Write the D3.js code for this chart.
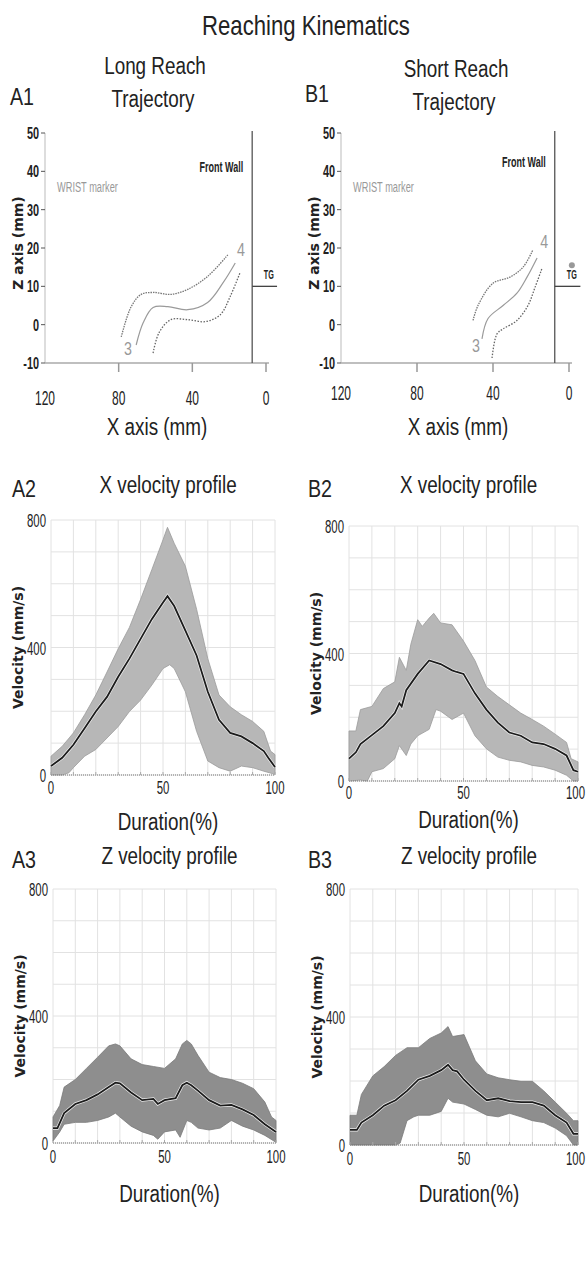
<!DOCTYPE html>
<html>
<head>
<meta charset="utf-8">
<script src="https://cdn.jsdelivr.net/npm/d3@7"></script>
<style>
  body { margin: 0; background: #fff; }
</style>
</head>
<body>
<div id="chart"></div>
<script>
// trajectory data: [x mm, z mm]
const a1Top = [[78.6, -3.2], [73.2, 4.7], [67.8, 7.9], [61, 8.4], [51.7, 7.9], [42.5, 9.2], [31.7, 12.6], [20.4, 18.4]]
const a1Mid = [[70.5, -5.3], [66.7, 0.5], [61.3, 4.5], [53.3, 4.7], [42.5, 3.9], [31.7, 5.8], [23.1, 11.1], [16.7, 16.1]]
const a1Low = [[61.3, -7.4], [58.1, -2.1], [51.7, 1.3], [42.5, 1.3], [32.8, 0.8], [24.8, 2.6], [19.4, 7.4], [14, 13.7]]

const b1Top = [[50.5, 1.1], [47.9, 5], [40, 10.8], [31.1, 12.4], [24.2, 15], [19, 19.5]]
const b1Mid = [[45.8, -3.7], [42.6, 1.6], [34.7, 5], [27.4, 8.2], [22.1, 12.4], [16.8, 17.4]]
const b1Low = [[40.5, -8.7], [37.9, -2.4], [34.7, -1.1], [27.4, 1.1], [21.6, 5], [17.9, 9.7], [14.2, 14.7]]

const trajXTicks = [120, 80, 40, 0]
const trajYTicks = [-10, 0, 10, 20, 30, 40, 50]
const frontWallX = 7.5
const targetZ = 10

// velocity data: [duration %, mm/s]
const a2Mean = [[0, 28], [5, 54], [10, 95], [15, 147], [20, 199], [25, 245], [30, 308], [35, 365], [40, 427], [45, 489], [50, 541], [52, 561], [55, 530], [60, 453], [65, 375], [70, 261], [75, 173], [80, 132], [85, 121], [90, 100], [95, 75], [97, 54], [100, 25]]
const a2Upper = [[0, 59], [5, 90], [10, 132], [15, 189], [20, 251], [25, 323], [30, 396], [35, 463], [40, 551], [45, 644], [50, 738], [52, 777], [55, 727], [60, 655], [65, 520], [70, 365], [75, 251], [80, 214], [85, 189], [90, 168], [95, 137], [98, 75], [100, 64]]
const a2Lower = [[0, 0], [5, 0], [8, 7], [10, 23], [15, 59], [20, 80], [25, 116], [30, 152], [35, 199], [40, 235], [45, 282], [50, 334], [53, 346], [55, 334], [60, 261], [65, 137], [70, 44], [75, 23], [80, 12], [85, 28], [90, 23], [95, 12], [100, 2]]

const b2Mean = [[0, 70], [3, 90], [5, 116], [10, 144], [15, 172], [20, 213], [22, 244], [23, 234], [25, 285], [30, 336], [35, 378], [40, 367], [45, 347], [47, 342], [50, 336], [55, 275], [60, 224], [65, 183], [70, 152], [75, 142], [80, 121], [85, 116], [90, 101], [95, 80], [98, 34], [100, 29]]
const b2Upper = [[0, 157], [3, 157], [5, 224], [10, 234], [15, 290], [20, 311], [22, 388], [25, 347], [27, 429], [30, 506], [32, 485], [35, 511], [37, 526], [40, 496], [45, 490], [50, 439], [55, 378], [60, 295], [65, 265], [70, 239], [75, 213], [80, 193], [85, 172], [90, 147], [95, 121], [97, 70], [100, 60]]
const b2Lower = [[0, 0], [5, 3], [8, 0], [10, 29], [15, 39], [20, 70], [22, 111], [25, 80], [27, 116], [30, 142], [35, 162], [38, 224], [40, 219], [45, 193], [50, 213], [55, 142], [60, 101], [65, 75], [70, 65], [75, 60], [80, 49], [85, 44], [90, 34], [95, 18], [98, 0], [100, 0]]

const a3Mean = [[0, 47], [2, 47], [5, 94], [10, 123], [15, 135], [20, 153], [25, 176], [28, 190], [30, 188], [35, 159], [40, 135], [45, 139], [47, 123], [50, 135], [55, 141], [58, 182], [60, 190], [62, 182], [65, 165], [70, 135], [75, 118], [80, 120], [85, 106], [90, 88], [95, 59], [100, 35]]
const a3Upper = [[0, 82], [3, 118], [5, 176], [10, 200], [15, 235], [20, 270], [25, 306], [28, 312], [30, 306], [35, 265], [40, 247], [45, 241], [50, 235], [55, 265], [58, 312], [60, 323], [62, 312], [65, 276], [70, 223], [75, 206], [80, 200], [85, 188], [90, 171], [95, 129], [98, 82], [100, 71]]
const a3Lower = [[0, 6], [3, 35], [5, 59], [10, 65], [15, 65], [20, 71], [25, 82], [28, 94], [30, 82], [35, 53], [40, 35], [45, 24], [47, 12], [50, 35], [55, 41], [57, 18], [60, 71], [62, 65], [65, 47], [70, 41], [75, 47], [80, 71], [85, 53], [90, 41], [95, 24], [100, 2]]

const b3Mean = [[0, 47], [3, 47], [5, 70], [10, 93], [15, 123], [20, 140], [25, 169], [30, 204], [35, 216], [40, 234], [43, 251], [45, 234], [47, 230], [50, 204], [55, 169], [60, 140], [65, 146], [70, 137], [75, 134], [80, 134], [85, 123], [90, 93], [95, 70], [98, 35], [100, 35]]
const b3Upper = [[0, 93], [3, 93], [5, 158], [10, 216], [15, 245], [20, 280], [25, 304], [30, 304], [35, 333], [40, 350], [43, 370], [45, 339], [50, 345], [55, 263], [60, 222], [65, 210], [70, 204], [75, 199], [80, 199], [85, 169], [90, 134], [95, 99], [98, 76], [100, 76]]
const b3Lower = [[0, 0], [20, 0], [22, 6], [25, 76], [28, 88], [30, 93], [35, 93], [40, 105], [43, 146], [45, 134], [50, 128], [55, 111], [60, 93], [65, 88], [70, 99], [75, 88], [80, 76], [85, 70], [90, 53], [95, 29], [98, 0], [100, 0]]

const velXTicks = [0, 50, 100]
const velYTicks = [0, 400, 800]

const width = 586
const height = 1261
const sansFont = "'Liberation Sans', Arial, sans-serif"
const boldFont = "'DejaVu Sans', Verdana, sans-serif"

const svg = d3
  .select('#chart')
  .append('svg')
  .attr('width', width)
  .attr('height', height)

svg.append('rect').attr('width', width).attr('height', height).attr('fill', '#fff')

// condensed text: Liberation Sans squeezed horizontally
function ntext(g, x, y, str, size, opts) {
  opts = opts || {}
  const sx = opts.sx || 0.82
  return g
    .append('text')
    .attr('transform', 'translate(' + x + ',' + y + ') scale(' + sx + ',1)')
    .attr('font-family', sansFont)
    .attr('font-size', size)
    .attr('font-weight', opts.weight || 'normal')
    .attr('text-anchor', opts.anchor || 'start')
    .attr('fill', opts.fill || '#222')
    .text(str)
}

ntext(svg, 306, 35, 'Reaching Kinematics', 27, { anchor: 'middle' })

function drawTrajectory(p) {
  const g = svg.append('g')
  const x = d3.scaleLinear().domain([120, 0]).range([p.left, p.right])
  const y = d3.scaleLinear().domain([-10, 50]).range([363, 133])

  // panel letter and titles
  ntext(g, p.letterX, p.letterY, p.letter, 24)
  ntext(g, p.titleX, p.titleY, p.title[0], 23, { anchor: 'middle' })
  ntext(g, p.titleX - 2, p.titleY + 33, p.title[1], 23, { anchor: 'middle' })

  // left axis
  g.append('line').attr('x1', x(120)).attr('x2', x(120)).attr('y1', y(50)).attr('y2', y(-10))
    .attr('stroke', '#bbb')
  g.selectAll('.ytick').data(trajYTicks).enter().append('line')
    .attr('x1', x(120) - 4).attr('x2', x(120)).attr('y1', d => y(d)).attr('y2', d => y(d))
    .attr('stroke', '#555')
  trajYTicks.forEach(d => {
    ntext(g, x(120) - 6, y(d) + 6, d, 17, { anchor: 'end', weight: 'bold', sx: 0.64 })
  })

  // bottom axis
  g.append('line').attr('x1', x(120)).attr('x2', x(0) + 3).attr('y1', y(-10)).attr('y2', y(-10))
    .attr('stroke', '#aaa').attr('stroke-width', 1.5)
  g.selectAll('.xtick').data(trajXTicks.slice(1)).enter().append('line')
    .attr('x1', d => x(d)).attr('x2', d => x(d)).attr('y1', y(-10)).attr('y2', y(-10) + 9)
    .attr('stroke', '#999').attr('stroke-width', 1.5)
  trajXTicks.forEach(d => {
    ntext(g, x(d), p.xLabY, d, 20, { anchor: 'middle', sx: 0.6 })
  })
  ntext(g, p.xTitleX, 435, 'X axis (mm)', 23, { anchor: 'middle' })

  g.append('text')
    .attr('transform', 'translate(' + (p.left - 22) + ',243) rotate(-90)')
    .attr('font-family', boldFont).attr('font-weight', 'bold')
    .attr('text-anchor', 'middle').attr('font-size', 14).attr('fill', '#222').text('Z axis (mm)')

  // front wall and target
  g.append('line').attr('x1', x(frontWallX)).attr('x2', x(frontWallX))
    .attr('y1', y(50.5)).attr('y2', y(-10)).attr('stroke', '#555').attr('stroke-width', 1.3)
  g.append('line').attr('x1', x(frontWallX)).attr('x2', x(-6))
    .attr('y1', y(targetZ)).attr('y2', y(targetZ)).attr('stroke', '#444').attr('stroke-width', 1.3)
  ntext(g, x(frontWallX) - 9, p.wallLabY, 'Front Wall', 15, { anchor: 'end', weight: 'bold', sx: 0.6 })
  if (p.dot) {
    g.append('circle').attr('cx', x(-1.5)).attr('cy', y(targetZ) - 21).attr('r', 3).attr('fill', '#999')
  }
  ntext(g, x(-1.5), y(targetZ) - 7, 'TG', 12, { anchor: 'middle', weight: 'bold', sx: 0.6 })
  ntext(g, p.left + 12, 192, 'WRIST marker', 14, { fill: '#999', sx: 0.66 })

  // trajectories
  const line = d3.line()
    .x(d => x(d[0]))
    .y(d => y(d[1]))
    .curve(d3.curveCatmullRom)
  g.append('path').attr('d', line(p.curves[0])).attr('fill', 'none')
    .attr('stroke', '#777').attr('stroke-width', 1.3).attr('stroke-dasharray', '1.5,1')
  g.append('path').attr('d', line(p.curves[1])).attr('fill', 'none')
    .attr('stroke', '#9a9a9a').attr('stroke-width', 1.2)
  g.append('path').attr('d', line(p.curves[2])).attr('fill', 'none')
    .attr('stroke', '#666').attr('stroke-width', 1.3).attr('stroke-dasharray', '1.5,1.5')

  ntext(g, x(p.label3[0]), y(p.label3[1]), '3', 19, { anchor: 'middle', fill: '#999', sx: 0.75 })
  ntext(g, x(p.label4[0]), y(p.label4[1]), '4', 19, { anchor: 'middle', fill: '#999', sx: 0.75 })
}

drawTrajectory({
  left: 45, right: 266, letter: 'A1', letterX: 10, letterY: 105,
  title: ['Long Reach', 'Trajectory'], titleX: 155, titleY: 74,
  xLabY: 405, xTitleX: 157, wallLabY: 172, dot: false,
  label3: [75, -8], label4: [13.6, 18],
  curves: [a1Top, a1Mid, a1Low]
})

drawTrajectory({
  left: 341, right: 569, letter: 'B1', letterX: 305, letterY: 102,
  title: ['Short Reach', 'Trajectory'], titleX: 456, titleY: 77,
  xLabY: 400, xTitleX: 458, wallLabY: 167, dot: true,
  label3: [49, -7], label4: [13, 20],
  curves: [b1Top, b1Mid, b1Low]
})

function drawVelocity(p) {
  const g = svg.append('g')
  const x = d3.scaleLinear().domain([0, 100]).range([p.left, p.right])
  const y = d3.scaleLinear().domain([0, 800]).range([p.bottom, p.top])

  ntext(g, p.letterX, p.titleY + 4, p.letter, 24)
  ntext(g, (p.left + p.right) / 2 + 5, p.titleY, p.title, 23, { anchor: 'middle' })

  // grid
  g.selectAll('.vgrid').data(x.ticks(10)).enter().append('line')
    .attr('x1', d => x(d)).attr('x2', d => x(d)).attr('y1', p.top).attr('y2', p.bottom)
    .attr('stroke', '#e2e2e2')
  g.selectAll('.hgrid').data(y.ticks(8)).enter().append('line')
    .attr('x1', p.left).attr('x2', p.right).attr('y1', d => y(d)).attr('y2', d => y(d))
    .attr('stroke', '#e2e2e2')

  // band
  const line = d3.line().x(d => x(d[0])).y(d => y(d[1]))
  const band = p.upper.concat(p.lower.slice().reverse())
  g.append('path').attr('d', line(band) + 'Z')
    .attr('fill', p.fill).attr('stroke', p.edge).attr('stroke-width', 0.8)

  // mean
  g.append('path').attr('d', line(p.mean)).attr('fill', 'none')
    .attr('stroke', '#eee').attr('stroke-width', 3.2)
  g.append('path').attr('d', line(p.mean)).attr('fill', 'none')
    .attr('stroke', '#1c1c1c').attr('stroke-width', 1.8)

  // bottom baseline
  g.append('line').attr('x1', p.left).attr('x2', p.right).attr('y1', p.bottom).attr('y2', p.bottom)
    .attr('stroke', '#777').attr('stroke-width', 1.2).attr('stroke-dasharray', '1,1')
  g.selectAll('.btick').data(x.ticks(10)).enter().append('line')
    .attr('x1', d => x(d)).attr('x2', d => x(d)).attr('y1', p.bottom).attr('y2', p.bottom - 3)
    .attr('stroke', '#aaa')

  velYTicks.forEach(d => {
    ntext(g, p.left - 5, y(d) + 7, d, 19, { anchor: 'end', sx: 0.6 })
  })
  velXTicks.forEach(d => {
    const px = x(d)
    if (px + 9 > width) {
      ntext(g, width - 1, p.bottom + p.xPad, d, 19, { anchor: 'end', sx: 0.6 })
    } else {
      ntext(g, px, p.bottom + p.xPad, d, 19, { anchor: 'middle', sx: 0.6 })
    }
  })

  ntext(g, (p.left + p.right) / 2 + 5, p.durY, 'Duration(%)', 23, { anchor: 'middle' })

  g.append('text')
    .attr('transform', 'translate(' + (p.left - 28) + ',' + y(400) + ') rotate(-90)')
    .attr('font-family', boldFont).attr('font-weight', 'bold')
    .attr('text-anchor', 'middle').attr('font-size', 14).attr('fill', '#222').text('Velocity (mm/s)')
}

drawVelocity({
  left: 51, right: 275, top: 520, bottom: 775, letter: 'A2', letterX: 12, titleY: 493,
  title: 'X velocity profile', xPad: 19, durY: 830,
  mean: a2Mean, upper: a2Upper, lower: a2Lower, fill: '#b7b7b7', edge: '#9a9a9a'
})
drawVelocity({
  left: 349, right: 578, top: 526, bottom: 781, letter: 'B2', letterX: 308, titleY: 493,
  title: 'X velocity profile', xPad: 18, durY: 828,
  mean: b2Mean, upper: b2Upper, lower: b2Lower, fill: '#b7b7b7', edge: '#9a9a9a'
})
drawVelocity({
  left: 53, right: 276, top: 889, bottom: 1143, letter: 'A3', letterX: 12, titleY: 864,
  title: 'Z velocity profile', xPad: 20, durY: 1202,
  mean: a3Mean, upper: a3Upper, lower: a3Lower, fill: '#8e8e8e', edge: '#7a7a7a'
})
drawVelocity({
  left: 350, right: 578, top: 889, bottom: 1145, letter: 'B3', letterX: 308, titleY: 864,
  title: 'Z velocity profile', xPad: 20, durY: 1202,
  mean: b3Mean, upper: b3Upper, lower: b3Lower, fill: '#8e8e8e', edge: '#7a7a7a'
})
</script>
</body>
</html>
